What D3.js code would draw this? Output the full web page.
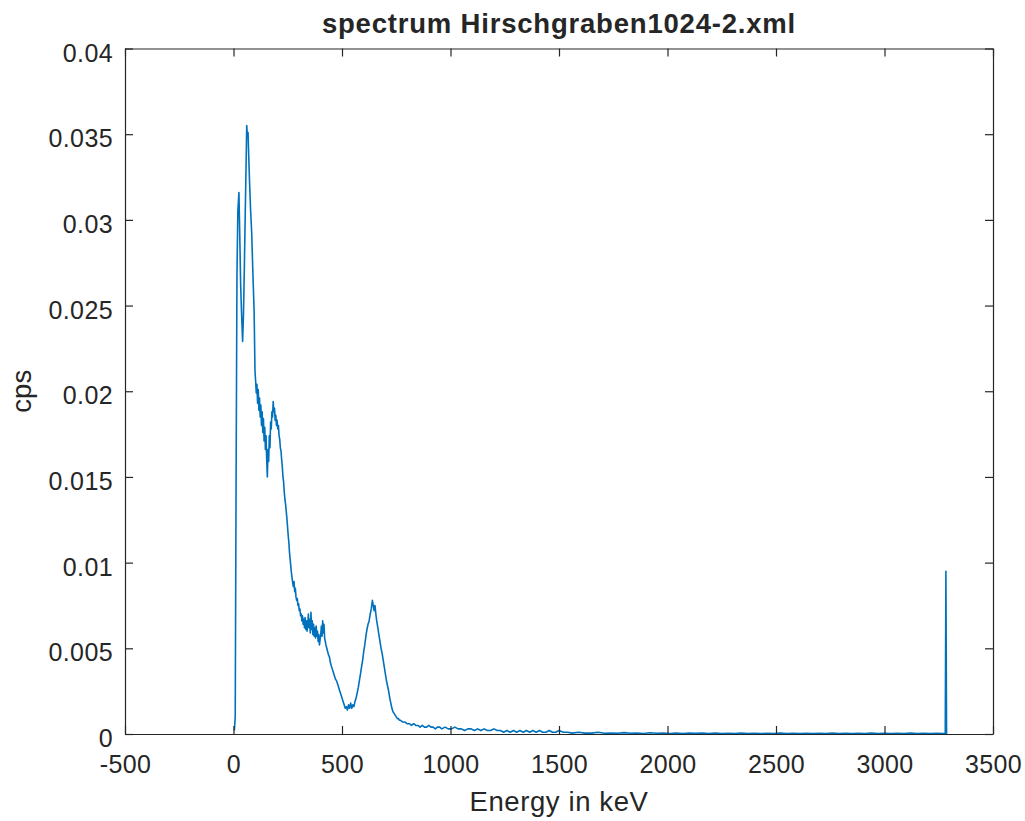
<!DOCTYPE html>
<html>
<head>
<meta charset="utf-8">
<script src="https://cdn.jsdelivr.net/npm/d3@7"></script>
<style>
  body { margin: 0; background: #fff; }
  text { font-family: "Liberation Sans", Arial, Helvetica, sans-serif; fill: #262626; }
</style>
</head>
<body>
<div id="center" style="width:1025px;height:821px;"></div>
<script>
// spectrum values (energy in keV, count rate in cps)
const energy = [
  4, 8, 12, 16, 20, 25, 29, 33, 37, 42, 46, 50, 54, 58, 61, 64, 67, 70, 74, 79, 84, 89, 95, 99,
  102, 105, 108, 111, 114, 117, 120, 123, 126, 129, 132, 135, 138, 141, 144, 147, 150, 153, 156, 159,
  162, 165, 168, 171, 174, 177, 180, 183, 186, 189, 192, 195, 198, 201, 204, 207, 210, 213, 216, 219,
  222, 225, 228, 231, 234, 237, 240, 243, 246, 249, 252, 255, 258, 261, 264, 267, 270, 273, 276, 279,
  282, 285, 288, 291, 294, 297, 300, 303, 306, 309, 312, 315, 318, 321, 324, 327, 330, 333, 336, 339,
  342, 345, 348, 351, 354, 357, 360, 363, 366, 369, 372, 375, 378, 381, 384, 387, 390, 393, 396, 399,
  402, 405, 408, 411, 414, 417, 420, 423, 426, 430, 434, 438, 442, 446, 450, 455, 460, 465, 470, 475,
  480, 485, 490, 495, 500, 505, 510, 515, 520, 525, 530, 535, 540, 545, 550, 555, 560, 565, 570, 575,
  580, 585, 590, 595, 600, 605, 610, 615, 620, 625, 630, 635, 640, 644, 648, 652, 656, 660, 665, 670,
  675, 680, 685, 690, 695, 700, 705, 710, 715, 720, 725, 730, 735, 740, 745, 750, 755, 760, 765, 770,
  780, 790, 800, 810, 820, 830, 840, 850, 860, 870, 880, 890, 900, 910, 920, 930, 940, 950, 960, 975,
  990, 1005, 1020, 1035, 1050, 1065, 1080, 1095, 1110, 1125, 1140, 1155, 1170, 1185, 1200, 1215, 1230, 1245,
  1260, 1275, 1290, 1305, 1320, 1335, 1350, 1365, 1380, 1395, 1410, 1425, 1440, 1455, 1470, 1485, 1500,
  1520, 1540, 1560, 1590, 1620, 1650, 1680, 1710, 1740, 1770, 1800, 1830, 1860, 1890, 1920, 1950, 1980,
  2010, 2040, 2070, 2100, 2130, 2160, 2190, 2220, 2250, 2280, 2310, 2340, 2370, 2400, 2430, 2460, 2490,
  2520, 2550, 2580, 2610, 2640, 2670, 2700, 2730, 2760, 2790, 2820, 2850, 2880, 2910, 2940, 2970, 3000,
  3030, 3060, 3090, 3120, 3150, 3180, 3210, 3240, 3270, 3280, 3283, 3286
];
const cps = [
  0.0002, 0.0010, 0.0150, 0.0268, 0.0305, 0.0316, 0.0290, 0.0262, 0.0246, 0.0229, 0.0245, 0.0272, 0.0303, 0.0332, 0.0355, 0.0349, 0.0351, 0.0338, 0.0322, 0.0305, 0.0292, 0.0270, 0.0247, 0.0212,
  0.0206, 0.0199, 0.0204, 0.0193, 0.0201, 0.0189, 0.0196, 0.0185, 0.0192, 0.0180, 0.0188, 0.0176, 0.0184, 0.0171, 0.0179, 0.0166, 0.0174, 0.0160, 0.0150, 0.0166,
  0.0159, 0.0174, 0.0167, 0.0182, 0.0178, 0.0188, 0.0185, 0.0194, 0.0188, 0.0190, 0.0183, 0.0186, 0.0180, 0.0183, 0.0178, 0.0180, 0.0174, 0.0172, 0.0167, 0.0165,
  0.0160, 0.0156, 0.0150, 0.0147, 0.0141, 0.0137, 0.0134, 0.0130, 0.0126, 0.0121, 0.0116, 0.0112, 0.0106, 0.0102, 0.0098, 0.0094, 0.0091, 0.0088, 0.0086, 0.0089,
  0.0083, 0.0085, 0.0080, 0.0078, 0.0079, 0.0075, 0.0076, 0.0072, 0.0073, 0.0069, 0.0070, 0.0066, 0.0069, 0.0064, 0.0067, 0.0062, 0.0068, 0.0061, 0.0066, 0.0060,
  0.0064, 0.0070, 0.0062, 0.0067, 0.0059, 0.0071, 0.0061, 0.0066, 0.0058, 0.0064, 0.0057, 0.0062, 0.0056, 0.0063, 0.0057, 0.0060, 0.0054, 0.0058, 0.0052, 0.0055,
  0.0058, 0.0063, 0.0057, 0.0066, 0.0059, 0.0064, 0.0056, 0.0054, 0.0052, 0.0050, 0.0048, 0.0046, 0.0045, 0.0042, 0.0040, 0.0038, 0.0036, 0.0034, 0.0032, 0.0031,
  0.0029, 0.0027, 0.0025, 0.0023, 0.0021, 0.0019, 0.0017, 0.0015, 0.0016, 0.0014, 0.0017, 0.0015, 0.0018, 0.0015, 0.0017, 0.0016, 0.0019, 0.0021, 0.0024, 0.0027,
  0.0031, 0.0035, 0.0039, 0.0043, 0.0048, 0.0052, 0.0057, 0.0061, 0.0064, 0.0066, 0.0070, 0.0073, 0.0078, 0.0075, 0.0072, 0.0075, 0.0070, 0.0066, 0.0062, 0.0058,
  0.0054, 0.0050, 0.0047, 0.0043, 0.0039, 0.0035, 0.0031, 0.0028, 0.0025, 0.0021, 0.0018, 0.0015, 0.0013, 0.0012, 0.0011, 0.0010, 0.0009, 0.0009, 0.0008, 0.0008,
  0.0007, 0.0007, 0.0006, 0.0006, 0.0005, 0.0006, 0.0005, 0.0005, 0.0004, 0.0005, 0.0004, 0.0004, 0.0005, 0.0004, 0.0004, 0.0003, 0.0004, 0.0004, 0.0003, 0.0004,
  0.0003, 0.0003, 0.0004, 0.0003, 0.0003, 0.0002, 0.0003, 0.0003, 0.0002, 0.0003, 0.0002, 0.0003, 0.0002, 0.0002, 0.0003, 0.0002, 0.0002, 0.0001,
  0.0002, 0.0001, 0.0002, 0.0001, 0.0002, 0.0001, 0.0002, 0.0001, 0.0002, 0.0001, 0.0002, 0.0001, 0.0001, 0.0002, 0.0001, 0.0001, 0.0002,
  0.0001, 0.0001, 0.00005, 0.0001, 0.00005, 0.00005, 0.0001, 0.00004, 0.00006, 0.00004, 0.00008, 0.00004, 0.00006, 0.00003, 0.00007, 0.00004, 0.00006,
  0.00003, 0.00005, 0.00003, 0.00006, 0.00004, 0.00005, 0.00003, 0.00005, 0.00003, 0.00004, 0.00003, 0.00005, 0.00003, 0.00004, 0.00002, 0.00004, 0.00003,
  0.00005, 0.00002, 0.00004, 0.00003, 0.00004, 0.00002, 0.00004, 0.00003, 0.00005, 0.00003, 0.00004, 0.00002, 0.00004, 0.00003, 0.00005, 0.00003, 0.00004,
  0.00002, 0.00004, 0.00003, 0.00005, 0.00003, 0.00004, 0.00002, 0.00004, 0.00003, 0.00003, 0.0095, 0.0000
];
const xTicks = [-500, 0, 500, 1000, 1500, 2000, 2500, 3000, 3500];
const xTickLabels = ["-500", "0", "500", "1000", "1500", "2000", "2500", "3000", "3500"];
const yTicks = [0, 0.005, 0.01, 0.015, 0.02, 0.025, 0.03, 0.035, 0.04];
const yTickLabels = ["0", "0.005", "0.01", "0.015", "0.02", "0.025", "0.03", "0.035", "0.04"];

const width = 1025, height = 821;
const mLeft = 125, mRight = 993, mTop = 48.5, mBottom = 734;
const axisColor = "#262626";

const svg = d3.select("#center").append("svg")
    .attr("width", width)
    .attr("height", height);

let xlinear = d3.scaleLinear().domain([-500, 3500]).range([mLeft, mRight]);
let ylinear = d3.scaleLinear().domain([0, 0.04]).range([mBottom, mTop]);

let data = energy.map(function (e, i) { return { x: e, y: cps[i] }; });

// spectrum line
let line = d3.line()
    .x(function (d) { return xlinear(d.x); })
    .y(function (d) { return ylinear(d.y); });
svg.append("path")
    .datum(data)
    .attr("d", line)
    .attr("fill", "none")
    .attr("stroke", "#0072BD")
    .attr("stroke-width", 1.6)
    .attr("stroke-linejoin", "round");

// axes, ticks inside, on all four sides (box on)
let axisX = d3.axisBottom(xlinear).tickValues(xTicks)
    .tickFormat(function (d, i) { return xTickLabels[i]; })
    .tickSizeInner(-8).tickSizeOuter(0);
let axisXTop = d3.axisTop(xlinear).tickValues(xTicks).tickFormat("")
    .tickSizeInner(-8).tickSizeOuter(0);
let axisY = d3.axisLeft(ylinear).tickValues(yTicks)
    .tickFormat(function (d, i) { return yTickLabels[i]; })
    .tickSizeInner(-8).tickSizeOuter(0);
let axisYRight = d3.axisRight(ylinear).tickValues(yTicks).tickFormat("")
    .tickSizeInner(-8).tickSizeOuter(0);

let gx = svg.append("g").attr("transform", "translate(0," + mBottom + ")").call(axisX);
let gxt = svg.append("g").attr("transform", "translate(0," + mTop + ")").call(axisXTop);
let gy = svg.append("g").attr("transform", "translate(" + mLeft + ",0)").call(axisY);
let gyr = svg.append("g").attr("transform", "translate(" + mRight + ",0)").call(axisYRight);

[gx, gxt, gy, gyr].forEach(function (g) {
    g.select(".domain").attr("stroke", axisColor).attr("stroke-width", 1.2);
    g.selectAll(".tick line").attr("stroke", axisColor).attr("stroke-width", 1.2);
    g.selectAll(".tick text")
        .style("font-family", "'Liberation Sans', Arial, sans-serif")
        .style("font-size", "25px")
        .style("letter-spacing", "0.4px")
        .attr("fill", axisColor);
});
gx.selectAll(".tick text").attr("dy", "0").attr("y", 39);
gy.selectAll(".tick text").attr("dy", "0").attr("y", 12.5).attr("x", -12);

// title and labels
svg.append("text")
    .attr("x", (mLeft + mRight) / 2)
    .attr("y", 33)
    .attr("text-anchor", "middle")
    .style("font-size", "27.5px")
    .style("font-weight", "bold")
    .style("letter-spacing", "0.8px")
    .text("spectrum Hirschgraben1024-2.xml");

svg.append("text")
    .attr("x", (mLeft + mRight) / 2)
    .attr("y", 810.5)
    .attr("text-anchor", "middle")
    .style("font-size", "27.5px")
    .style("letter-spacing", "0.6px")
    .text("Energy in keV");

svg.append("text")
    .attr("transform", "translate(31," + (mTop + mBottom) / 2 + ") rotate(-90)")
    .attr("text-anchor", "middle")
    .style("font-size", "27.5px")
    .text("cps");
</script>
</body>
</html>
